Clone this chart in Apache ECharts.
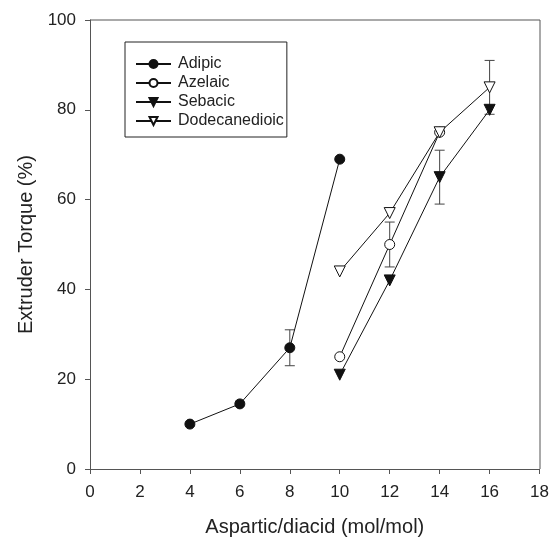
<!DOCTYPE html>
<html>
<head>
<meta charset="utf-8">
<script src="https://cdn.jsdelivr.net/npm/echarts@6/dist/echarts.min.js"></script>
<style>
  html, body { margin: 0; padding: 0; background: #fff; }
  #chart { width: 552px; height: 543px; }
</style>
</head>
<body>
<div id="chart"></div>
<script>
// data
const adipicX = [4, 6, 8, 10]
const adipicY = [10, 14.5, 27, 69]
const azelaicX = [10, 12, 14]
const azelaicY = [25, 50, 75]
const sebacicX = [10, 12, 14, 16]
const sebacicY = [21, 42, 65, 80]
const dodecX = [10, 12, 14, 16]
const dodecY = [44, 57, 75, 85]

// error bars: x, centre, half-width
const errX = [8, 12, 14, 16]
const errY = [27, 50, 65, 85]
const errD = [4, 5, 6, 6]

const xTicks = [0, 2, 4, 6, 8, 10, 12, 14, 16, 18]
const yTicks = [0, 20, 40, 60, 80, 100]

const font = 'Liberation Sans, Arial, sans-serif'
const chart = echarts.init(document.getElementById('chart'))

function pts(xs, ys) {
  return xs.map((x, i) => [x, ys[i]])
}

function lineSeries(name, xs, ys, symbol, filled, rotate) {
  return {
    name,
    type: 'line',
    data: pts(xs, ys),
    symbol,
    symbolSize: symbol === 'circle' ? 10 : 11,
    symbolRotate: rotate || 0,
    lineStyle: { color: '#111', width: 1 },
    itemStyle: { color: filled ? '#111' : '#fff', borderColor: '#111', borderWidth: 1 },
    z: 3,
    animation: false,
  }
}

chart.setOption({
  animation: false,
  grid: { left: 90, right: 12, top: 20, bottom: 74 },
  legend: {
    orient: 'vertical',
    left: 125,
    top: 42,
    padding: [14, 3, 8, 10],
    itemWidth: 35,
    itemHeight: 10,
    itemGap: 3,
    borderColor: '#222',
    borderWidth: 1,
    textStyle: { fontFamily: font, fontSize: 16, color: '#222', padding: [0, 0, 0, 2] },
    data: ['Adipic', 'Azelaic', 'Sebacic', 'Dodecanedioic'],
  },
  xAxis: {
    type: 'value',
    min: 0, max: 18, interval: 2,
    name: 'Aspartic/diacid (mol/mol)',
    nameLocation: 'middle',
    nameGap: 48,
    nameTextStyle: { fontFamily: font, fontSize: 20, color: '#222' },
    axisLine: { show: true, lineStyle: { color: '#555', width: 1 } },
    axisTick: { show: true, length: 5, lineStyle: { color: '#555' } },
    axisLabel: {
      fontFamily: font, fontSize: 17, color: '#222', margin: 15,
      formatter: (v) => xTicks.includes(v) ? String(v) : '',
    },
    splitLine: { show: false },
  },
  yAxis: {
    type: 'value',
    min: 0, max: 100, interval: 20,
    name: 'Extruder Torque (%)',
    nameLocation: 'middle',
    nameGap: 54,
    nameTextStyle: { fontFamily: font, fontSize: 20, color: '#222' },
    axisLine: { show: true, lineStyle: { color: '#555', width: 1 } },
    axisTick: { show: true, length: 5, lineStyle: { color: '#555' } },
    axisLabel: {
      fontFamily: font, fontSize: 17, color: '#222', margin: 14,
      formatter: (v) => yTicks.includes(v) ? String(v) : '',
    },
    splitLine: { show: false },
  },
  graphic: [{
    // top and right frame of the plot box
    type: 'polyline',
    shape: { points: [[90, 20], [540, 20], [540, 469]] },
    style: { stroke: '#555', lineWidth: 1, fill: null },
    z: 10,
  }],
  series: [
    {
      type: 'custom',
      name: 'err',
      data: errX.map((x, i) => [x, errY[i] - errD[i], errY[i] + errD[i]]),
      renderItem(params, api) {
        const lo = api.coord([api.value(0), api.value(1)])
        const hi = api.coord([api.value(0), api.value(2)])
        const w = 5
        return {
          type: 'group',
          children: [
            { type: 'line', shape: { x1: lo[0], y1: lo[1], x2: hi[0], y2: hi[1] }, style: { stroke: '#444', lineWidth: 1 } },
            { type: 'line', shape: { x1: lo[0] - w, y1: lo[1], x2: lo[0] + w, y2: lo[1] }, style: { stroke: '#444', lineWidth: 1 } },
            { type: 'line', shape: { x1: hi[0] - w, y1: hi[1], x2: hi[0] + w, y2: hi[1] }, style: { stroke: '#444', lineWidth: 1 } },
          ],
        }
      },
      z: 2,
      animation: false,
    },
    lineSeries('Adipic', adipicX, adipicY, 'circle', true),
    lineSeries('Azelaic', azelaicX, azelaicY, 'circle', false),
    lineSeries('Sebacic', sebacicX, sebacicY, 'triangle', true, 180),
    lineSeries('Dodecanedioic', dodecX, dodecY, 'triangle', false, 180),
  ],
})
</script>
</body>
</html>
